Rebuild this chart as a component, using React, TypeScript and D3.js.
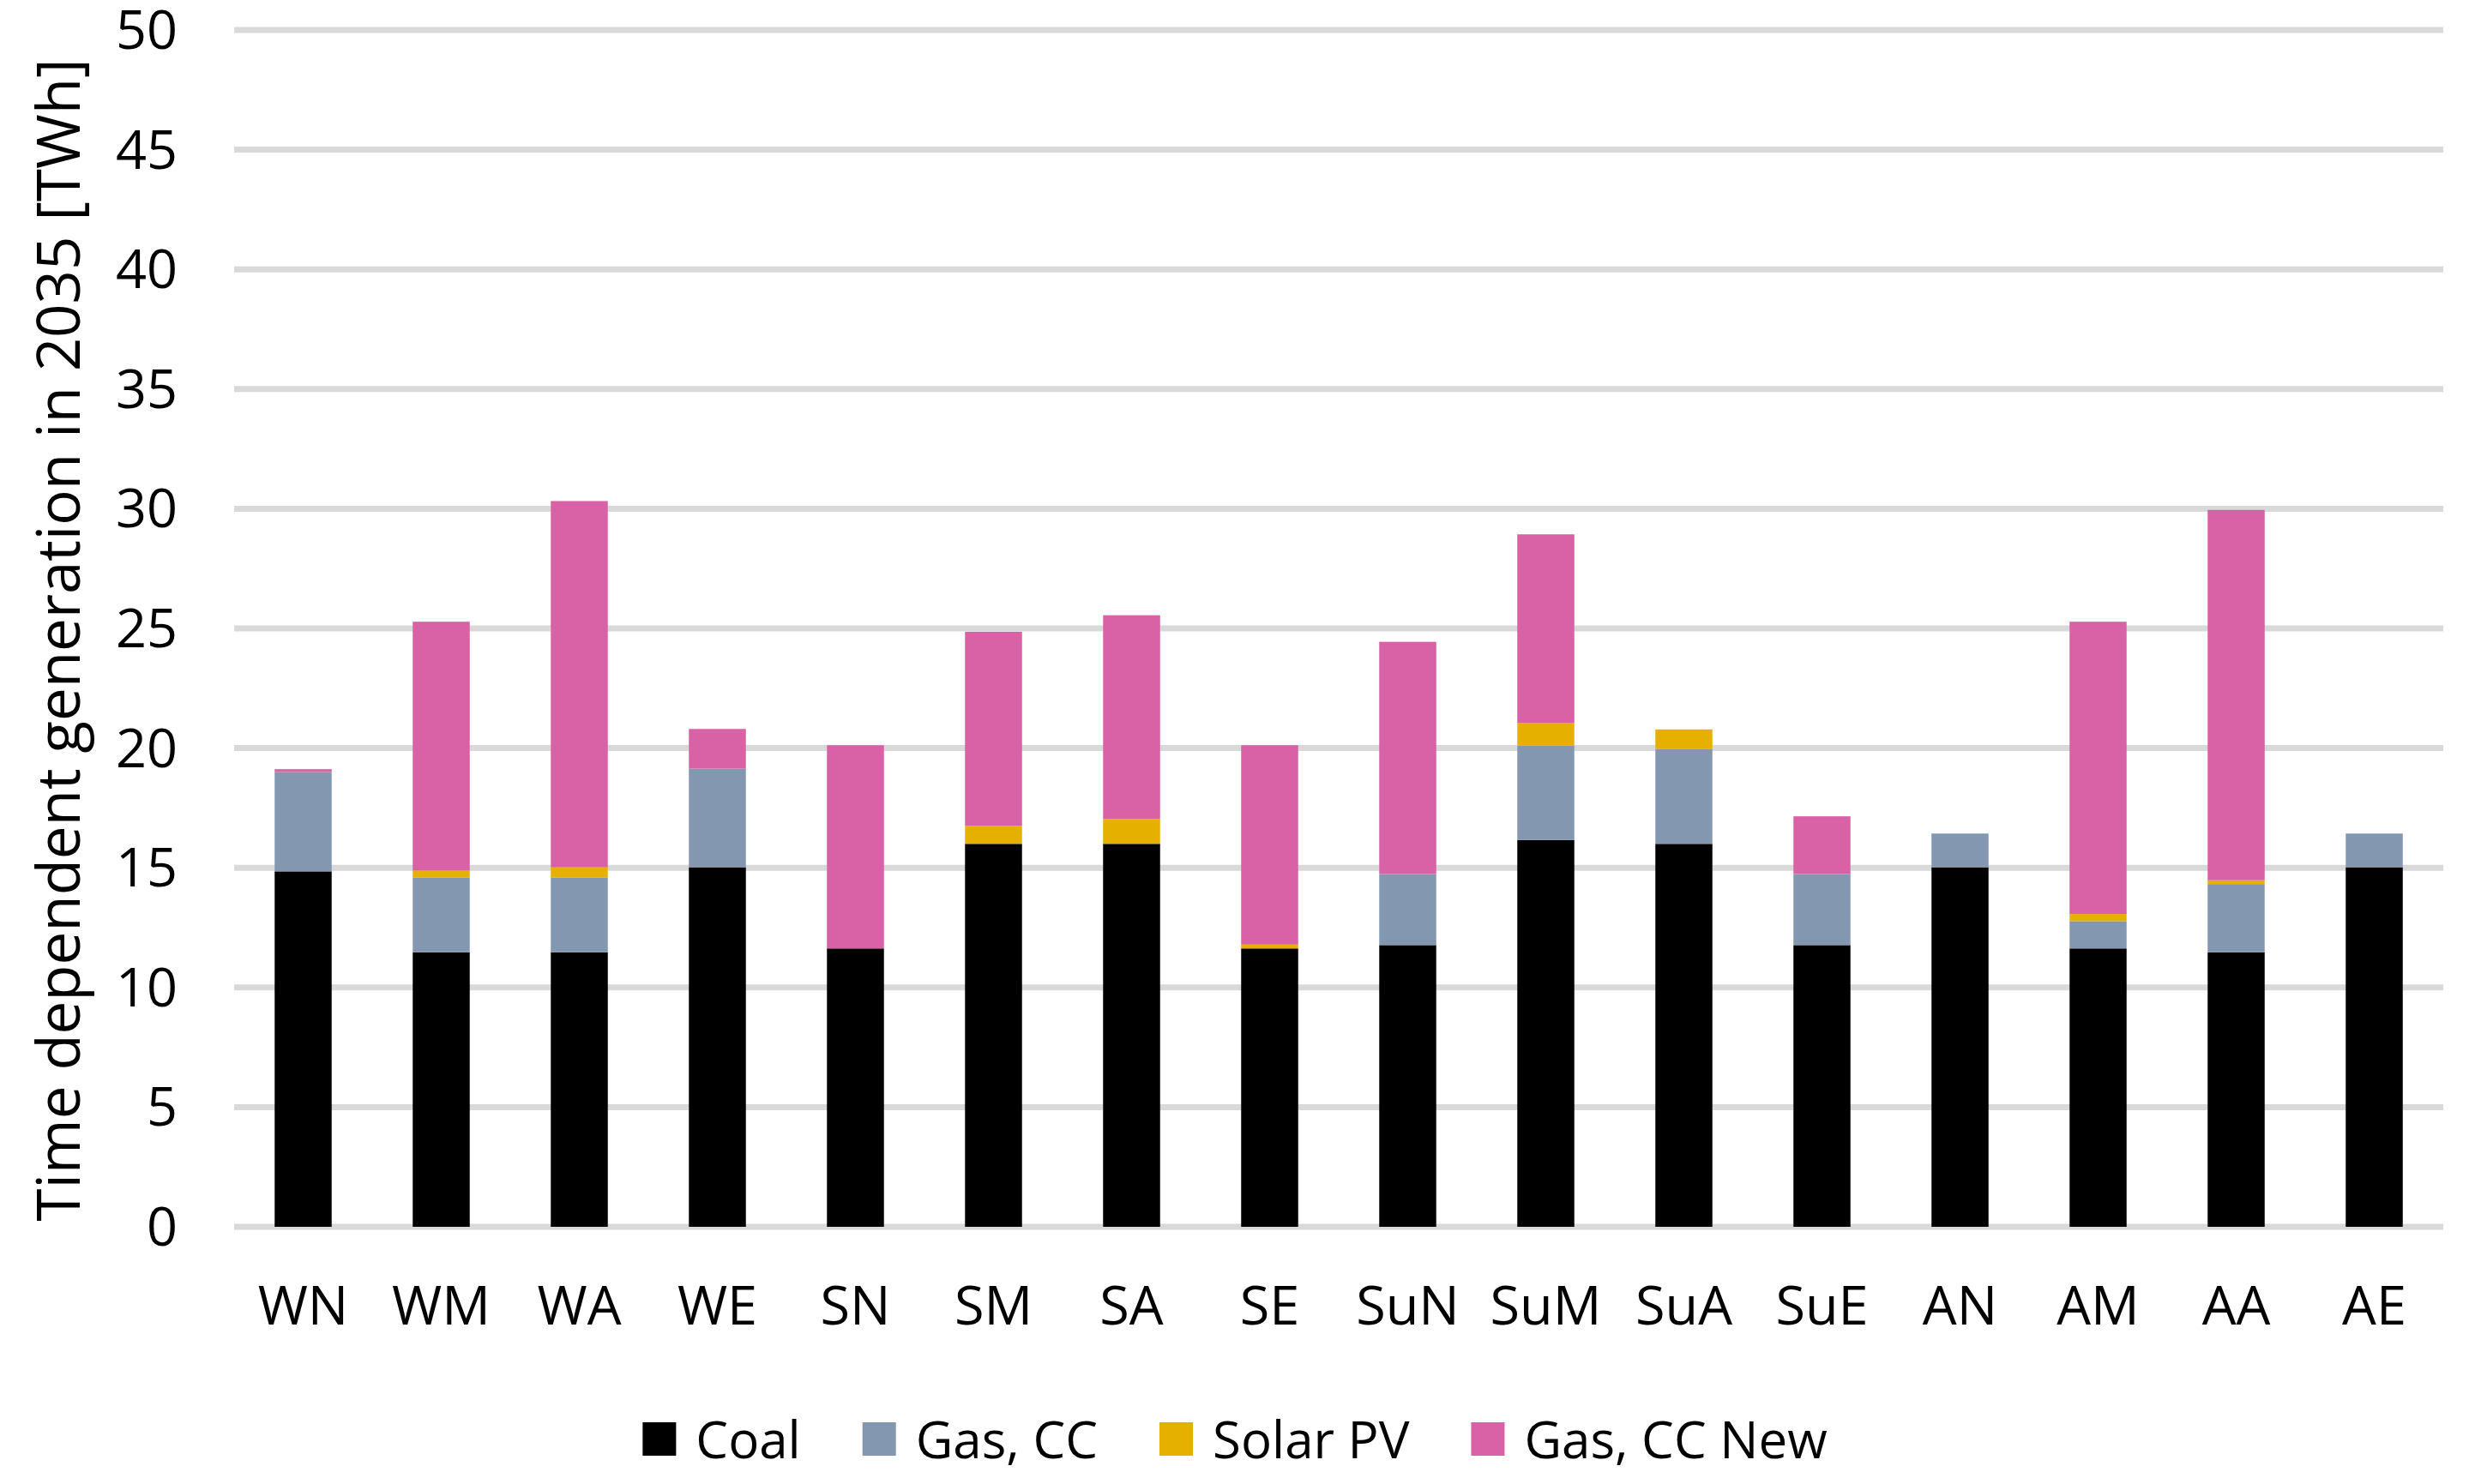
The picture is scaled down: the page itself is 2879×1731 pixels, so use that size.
import React, { useEffect, useRef } from "react";
import * as d3 from "d3";

const categories = ["WN", "WM", "WA", "WE", "SN", "SM", "SA", "SE", "SuN", "SuM", "SuA", "SuE", "AN", "AM", "AA", "AE"];

const coal = [14.85, 11.47, 11.47, 15.02, 11.63, 16.0, 16.0, 11.63, 11.77, 16.16, 16.0, 11.77, 15.02, 11.63, 11.47, 15.02];
const gasCC = [4.15, 3.13, 3.13, 4.12, 0, 0, 0, 0, 2.97, 3.94, 3.96, 2.97, 1.41, 1.14, 2.85, 1.41];
const solarPV = [0, 0.28, 0.42, 0, 0, 0.75, 1.03, 0.16, 0, 0.96, 0.82, 0, 0, 0.3, 0.16, 0];
const gasCCNew = [0.12, 10.4, 15.3, 1.66, 8.49, 8.11, 8.52, 8.33, 9.7, 7.87, 0, 2.41, 0, 12.21, 15.47, 0];

const seriesNames = ["Coal", "Gas, CC", "Solar PV", "Gas, CC New"];
const seriesColors = ["#000000", "#8497B0", "#E6B000", "#D962A6"];
const yTicks = [0, 5, 10, 15, 20, 25, 30, 35, 40, 45, 50];

const W = 2879;
const H = 1731;
const FONT = "'Open Sans', 'Noto Sans', sans-serif";

export default function App() {
  const svgRef = useRef<SVGSVGElement>(null);

  useEffect(() => {
    document.body.style.margin = "0";
    if (!svgRef.current) return;
    const svg = d3.select(svgRef.current);
    svg.selectAll("*").remove();

    const left = 273;
    const right = 2849;
    const top = 35;
    const bottom = 1431;

    const x = d3.scaleBand<string>().domain(categories).range([left, right]).paddingInner(0.587).paddingOuter(0.2935);
    const y = d3.scaleLinear().domain([0, 50]).range([bottom, top]);

    const rows = categories.map((c, i) => ({
      cat: c,
      "Coal": coal[i],
      "Gas, CC": gasCC[i],
      "Solar PV": solarPV[i],
      "Gas, CC New": gasCCNew[i],
    }));
    const stacked = d3.stack<any>().keys(seriesNames)(rows);

    // gridlines
    svg.append("g")
      .selectAll("line")
      .data(yTicks)
      .join("line")
      .attr("x1", left)
      .attr("x2", right)
      .attr("y1", (d) => y(d))
      .attr("y2", (d) => y(d))
      .attr("stroke", "#D9D9D9")
      .attr("stroke-width", 7);

    // tick labels
    svg.append("g")
      .selectAll("text")
      .data(yTicks)
      .join("text")
      .attr("x", 207)
      .attr("y", (d) => y(d))
      .attr("dy", "0.35em")
      .attr("text-anchor", "end")
      .attr("font-family", FONT)
      .attr("font-size", 63)
      .attr("fill", "#000")
      .text((d) => d);

    // bars
    svg.append("g")
      .selectAll("g")
      .data(stacked)
      .join("g")
      .attr("fill", (_, i) => seriesColors[i])
      .selectAll("rect")
      .data((d) => d)
      .join("rect")
      .attr("x", (d: any) => x(d.data.cat)!)
      .attr("width", x.bandwidth())
      .attr("y", (d) => y(d[1]))
      .attr("height", (d) => Math.max(0, y(d[0]) - y(d[1])));

    // category labels
    svg.append("g")
      .selectAll("text")
      .data(categories)
      .join("text")
      .attr("x", (d) => x(d)! + x.bandwidth() / 2)
      .attr("y", 1545)
      .attr("text-anchor", "middle")
      .attr("font-family", FONT)
      .attr("font-size", 63)
      .attr("fill", "#000")
      .text((d) => d);

    // y axis title
    svg.append("text")
      .attr("transform", `translate(93, ${(70 + 1423) / 2}) rotate(-90)`)
      .attr("text-anchor", "middle")
      .attr("font-family", FONT)
      .attr("font-size", 69)
      .attr("fill", "#000")
      .text("Time dependent generation in 2035 [TWh]");

    // legend
    const legend = svg.append("g");
    const sw = 39;
    const gap = 23;
    const itemGap = 72;
    let cx = 0;
    seriesNames.forEach((name, i) => {
      const g = legend.append("g").attr("transform", `translate(${cx},0)`);
      g.append("rect").attr("x", 0).attr("y", 1659).attr("width", sw).attr("height", sw).attr("fill", seriesColors[i]);
      const t = g.append("text")
        .attr("x", sw + gap)
        .attr("y", 1701)
        .attr("font-family", FONT)
        .attr("font-size", 60)
        .attr("fill", "#000")
        .text(name);
      const len = (t.node() as SVGTextElement).getComputedTextLength();
      cx += sw + gap + len + itemGap;
    });
    const total = cx - itemGap;
    legend.attr("transform", `translate(${1440 - total / 2},0)`);
  }, []);

  return <svg ref={svgRef} width={W} height={H} style={{ display: "block", background: "#fff" }} />;
}
